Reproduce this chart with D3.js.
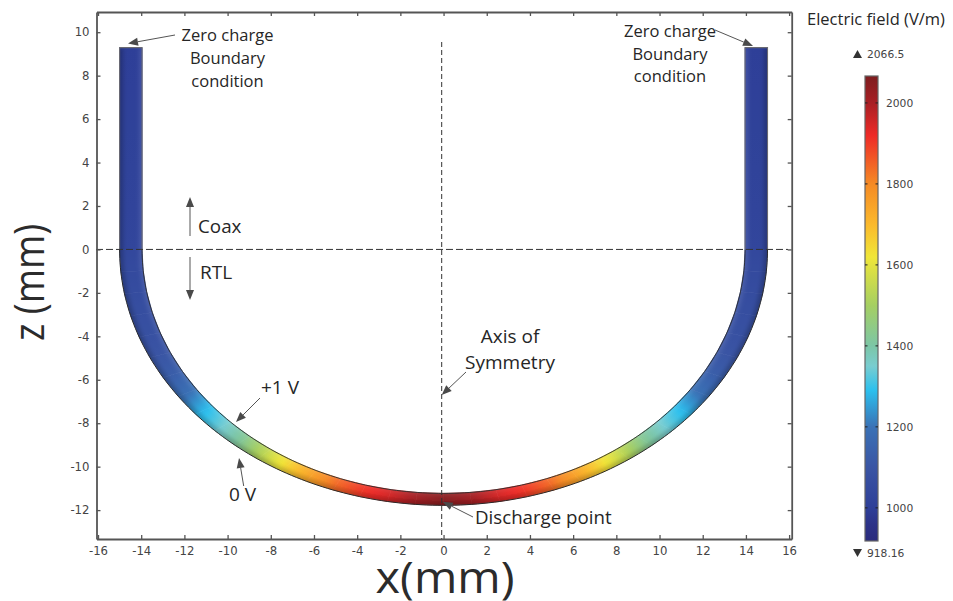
<!DOCTYPE html>
<html><head><meta charset="utf-8">
<script src="https://cdn.jsdelivr.net/npm/d3@7/dist/d3.min.js"></script>
<style>html,body{margin:0;padding:0;background:#fff}svg{display:block}</style>
</head><body><svg id="c" width="953" height="601"></svg>
<script>
// ---- data ----
const xTicks = [-16,-14,-12,-10,-8,-6,-4,-2,0,2,4,6,8,10,12,14,16];
const zTicks = [10,8,6,4,2,0,-2,-4,-6,-8,-10,-12];
const barTicks = [1000,1200,1400,1600,1800,2000];
const fieldMin = 918.16, fieldMax = 2066.5;
const colorFields = [918,960,1000,1100,1200,1290,1350,1400,1500,1620,1700,1800,1920,2000,2066.5];
const colorValues = ["#2a2a7c","#2c3288","#2e3f98","#3a55a4","#3a72b6","#2cc0ee","#79cdd0","#7cc6a6","#a5cf62","#f0e638","#fbb92c","#f58a25","#ee2a27","#a81f24","#7d1d1f"];
const outerRadii = [15, 11.78];
const innerRadii = [13.96, 11.23];
const coaxTop = 9.29;
const arcAngles = [0,5,10,15,20,25,30,35,40,45,50,55,60,65,70,75,80,85,90];
const arcField = [2050,2010,1950,1905,1840,1750,1650,1540,1425,1345,1280,1190,1130,1100,1080,1070,1060,1050,1040];
const coaxZ = [0,9.29];
const coaxField = [1030,1000];
const zeroChargeLines = ["Zero charge","Boundary","condition"];
const axisLines = ["Axis of","Symmetry"];

// ---- scales ----
const svg = d3.select("#c");
const x = d3.scaleLinear().domain([-16.07,16.12]).range([96.5,791.7]);
const y = d3.scaleLinear().domain([10.93,-13.33]).range([12,539]);
const color = d3.scaleLinear().domain(colorFields).range(colorValues).interpolate(d3.interpolateRgb);
const barY = d3.scaleLinear().domain([fieldMin,fieldMax]).range([541,76]);
const defs = svg.append("defs");

// ---- wall stations, left top to right top ----
const rad = a => a*Math.PI/180;
const station = (a,s) => ({
  ox:x(s*outerRadii[0]*Math.sin(rad(a))), oy:y(-outerRadii[1]*Math.cos(rad(a))),
  ix:x(s*innerRadii[0]*Math.sin(rad(a))), iy:y(-innerRadii[1]*Math.cos(rad(a)))
});
const coaxStation = (z,s) => ({ox:x(s*outerRadii[0]),oy:y(z),ix:x(s*innerRadii[0]),iy:y(z)});
let stations = [];
[1,-1].forEach(s=>{
  const half = [];
  coaxZ.forEach((z,i)=>half.push({...coaxStation(z,s),f:coaxField[i]}));
  half.reverse();
  arcAngles.slice().reverse().forEach((a,i)=>half.push({...station(a,s),f:arcField[arcField.length-1-i]}));
  if(s===1) stations = half.slice().reverse();
  else stations = half.concat(stations.slice(1));
});

const wall = svg.append("g");
d3.pairs(stations).forEach(([a,b],i)=>{
  const id="w"+i;
  const g=defs.append("linearGradient").attr("id",id).attr("gradientUnits","userSpaceOnUse")
    .attr("x1",(a.ox+a.ix)/2).attr("y1",(a.oy+a.iy)/2).attr("x2",(b.ox+b.ix)/2).attr("y2",(b.oy+b.iy)/2);
  d3.range(0,1.01,0.2).forEach(t=>g.append("stop").attr("offset",t).attr("stop-color",color(a.f+(b.f-a.f)*t)));
  const pts=[[a.ox,a.oy],[b.ox,b.oy],[b.ix,b.iy],[a.ix,a.iy]];
  wall.append("path").attr("d",d3.line()(pts)+"Z").attr("fill",`url(#${id})`).attr("stroke",`url(#${id})`).attr("stroke-width",0.7);
});

// edge curves of the wall, coax end to coax end
const fine = d3.range(-90,90.5,1);
const edge = r=>[[x(-r[0]),y(coaxTop)]].concat(fine.map(a=>[x(r[0]*Math.sin(rad(a))),y(-r[1]*Math.cos(rad(a)))]),[[x(r[0]),y(coaxTop)]]);
const plain = d3.line();
const outerEdge = edge(outerRadii), innerEdge = edge(innerRadii);
defs.append("clipPath").attr("id","wallClip").append("path").attr("d",plain(outerEdge.concat(innerEdge.slice().reverse()))+"Z");
const soft = defs.append("filter").attr("id","soft").attr("x","-5%").attr("y","-5%").attr("width","110%").attr("height","110%");
soft.append("feGaussianBlur").attr("stdDeviation",2.2);
const shade = svg.append("g").attr("clip-path","url(#wallClip)").append("g").attr("filter","url(#soft)");
shade.append("path").attr("d",plain(outerEdge)).attr("fill","none").attr("stroke","#000").attr("stroke-opacity",0.22).attr("stroke-width",7);
shade.append("path").attr("d",plain(innerEdge)).attr("fill","none").attr("stroke","#fff").attr("stroke-opacity",0.10).attr("stroke-width",6);

// outlines: dark along the curve, grey along the straight coax
const arcEdge = r=>fine.map(a=>[x(r[0]*Math.sin(rad(a))),y(-r[1]*Math.cos(rad(a)))]);
svg.append("path").attr("d",plain(arcEdge(outerRadii))).attr("fill","none").attr("stroke","#2a2a2a").attr("stroke-width",1);
svg.append("path").attr("d",plain(arcEdge(innerRadii))).attr("fill","none").attr("stroke","#2a2a2a").attr("stroke-width",0.9);
[-1,1].forEach(s=>{
  svg.append("path").attr("d",plain([[x(s*outerRadii[0]),y(0)],[x(s*outerRadii[0]),y(coaxTop)],[x(s*innerRadii[0]),y(coaxTop)],[x(s*innerRadii[0]),y(0)]]))
    .attr("fill","none").attr("stroke","#6a6a72").attr("stroke-width",1.1);
});

// ---- dashed guides ----
svg.append("line").attr("x1",96).attr("x2",788).attr("y1",y(0)).attr("y2",y(0)).attr("stroke","#333").attr("stroke-width",1).attr("stroke-dasharray","7,3");
svg.append("line").attr("x1",441.7).attr("x2",441.7).attr("y1",42).attr("y2",539).attr("stroke","#333").attr("stroke-width",1).attr("stroke-dasharray","5,3");

// ---- axes ----
const axisColor="#555";
const hyphen=d=>String(d);
const styleAxis=g=>{g.selectAll("path").attr("stroke",axisColor).attr("stroke-width",1.8);
  g.selectAll("line").attr("stroke",axisColor).attr("stroke-width",1.3);
  g.selectAll("text").attr("fill","#444").attr("font-family","DejaVu Sans").attr("font-size",11.7);};
svg.append("g").attr("transform","translate(0,539)").call(d3.axisBottom(x).tickValues(xTicks).tickFormat(hyphen).tickSizeInner(-4).tickSizeOuter(0).tickPadding(8)).call(styleAxis);
svg.append("g").attr("transform","translate(0,12)").call(d3.axisTop(x).tickValues(xTicks).tickSizeInner(-4).tickSizeOuter(0).tickFormat("")).call(styleAxis);
svg.append("g").attr("transform","translate(96.5,0)").call(d3.axisLeft(y).tickValues(zTicks).tickFormat(hyphen).tickSizeInner(-4).tickSizeOuter(0).tickPadding(7)).call(styleAxis);
svg.append("g").attr("transform","translate(791.7,0)").call(d3.axisRight(y).tickValues(zTicks).tickSizeInner(-4).tickSizeOuter(0).tickFormat("")).call(styleAxis);

// ---- titles ----
const font="'Open Sans'";
svg.append("text").attr("transform","translate(445,593) scale(1.09,1)").attr("text-anchor","middle").attr("font-family",font).attr("font-size",43).attr("fill","#2b2b2b").text("x(mm)");
svg.append("text").attr("transform","translate(44,282.5) rotate(-90) scale(0.88,1)").attr("text-anchor","middle").attr("font-family",font).attr("font-size",42).attr("fill","#2b2b2b").text("z (mm)");

// ---- annotations ----
const label=(t,px,py,anchor="middle",size=19)=>svg.append("text").attr("x",px).attr("y",py).attr("text-anchor",anchor)
  .attr("font-family",font).attr("font-size",size).attr("fill","#262626").text(t);
zeroChargeLines.forEach((t,i)=>label(t,227.5,41+i*23,"middle",16.5));
zeroChargeLines.forEach((t,i)=>label(t,670,37+i*22.5,"middle",16.5));
axisLines.forEach((t,i)=>label(t,510,343+i*26));
label("Coax",198,233,"start",18.8);
label("RTL",200,279,"start");
label("+1 V",261,394,"start");
label("0 V",229,501,"start");
label("Discharge point",475,524,"start",18.7);
label("Electric field (V/m)",807,25,"start",16.5);

const arrow=(x1,y1,x2,y2)=>{
  const dx=x2-x1,dy=y2-y1,L=Math.hypot(dx,dy),ux=dx/L,uy=dy/L,h=10,w=4;
  const bx=x2-ux*h,by=y2-uy*h;
  svg.append("line").attr("x1",x1).attr("y1",y1).attr("x2",bx).attr("y2",by).attr("stroke","#555").attr("stroke-width",1);
  svg.append("path").attr("d",d3.line()([[x2,y2],[bx-uy*w,by+ux*w],[bx+uy*w,by-ux*w]])+"Z").attr("fill","#4a4a4a");
};
arrow(175,35,128,43.5);
arrow(715,30,753,46);
arrow(190,236,190,197);
arrow(190,257,190,300);
arrow(260,398,236,422);
arrow(243.7,486,239,458);
arrow(466,372,441.7,395);
arrow(473,517,442.7,501.7);

// ---- colour bar ----
const barX=[865,878];
const bg=defs.append("linearGradient").attr("id","bar").attr("x1",0).attr("x2",0).attr("y1",1).attr("y2",0);
colorFields.forEach((f,i)=>bg.append("stop").attr("offset",(f-colorFields[0])/(fieldMax-colorFields[0])).attr("stop-color",colorValues[i]));
svg.append("rect").attr("x",barX[0]).attr("y",barY(fieldMax)).attr("width",barX[1]-barX[0]).attr("height",barY(fieldMin)-barY(fieldMax))
  .attr("fill","url(#bar)").attr("stroke","#666").attr("stroke-width",1.2);
const tickG=svg.append("g").selectAll("g").data(barTicks).join("g").attr("transform",d=>`translate(0,${barY(d)})`);
tickG.append("line").attr("x1",barX[0]).attr("x2",barX[0]+2.5).attr("stroke","#222");
tickG.append("line").attr("x1",barX[1]-2.5).attr("x2",barX[1]).attr("stroke","#222");
tickG.append("text").attr("x",886).attr("dy","0.36em").attr("font-family","DejaVu Sans").attr("font-size",10.7).attr("fill","#444").text(d=>d);
const sym=(d,py,t)=>{svg.append("path").attr("d",d).attr("transform",`translate(857.5,${py})`).attr("fill","#333");
  svg.append("text").attr("x",867).attr("y",py).attr("dy","0.36em").attr("font-family","DejaVu Sans").attr("font-size",10.7).attr("fill","#444").text(t);};
sym("M-4.5,4 L4.5,4 L0,-4 Z",54,"2066.5");
sym("M-4.5,-4 L4.5,-4 L0,4 Z",553,"918.16");
</script></body></html>
